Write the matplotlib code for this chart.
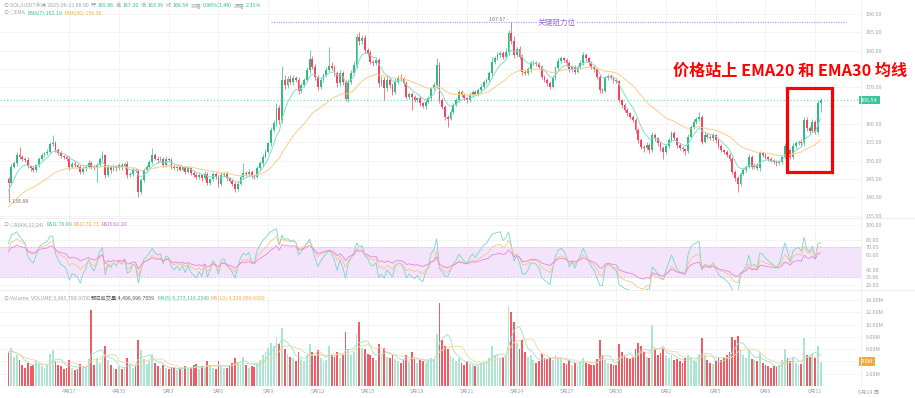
import numpy as np
import pandas as pd
import matplotlib
matplotlib.use("Agg")
import matplotlib.pyplot as plt
from matplotlib.patches import Rectangle

plt.rcParams['font.family'] = ['Noto Sans CJK SC', 'DejaVu Sans']

W, H = 915, 398

# SOL/USDT 4H closes, first candle 4/23 08:00, last 6/11 08:00
closes = [
    143.9, 148.4, 149.3, 151.6, 151.0, 150.6, 150.2, 148.5, 147.9, 147.5,
    148.8, 150.6, 151.5, 152.0, 152.5, 154.5, 154.7, 152.9, 152.0, 151.3,
    151.1, 150.6, 148.4, 149.1, 148.8, 148.4, 147.0, 147.9, 148.4, 149.5,
    148.4, 147.9, 148.8, 150.6, 151.5, 146.1, 148.4, 147.5, 148.5, 147.9,
    148.8, 148.2, 149.1, 146.1, 146.4, 147.5, 147.3, 141.6, 144.7, 147.5,
    148.4, 149.7, 151.5, 150.6, 150.2, 150.6, 148.8, 150.4, 150.2, 148.4,
    147.9, 148.4, 147.6, 148.2, 147.0, 147.9, 146.7, 146.1, 145.5, 146.1,
    145.2, 146.5, 144.0, 144.9, 146.4, 145.6, 143.6, 146.1, 146.5, 145.2,
    144.6, 143.8, 142.2, 143.8, 145.6, 146.7, 146.4, 147.0, 145.8, 145.6,
    147.9, 149.3, 151.1, 152.5, 154.7, 158.4, 160.2, 164.3, 161.1, 172.0,
    170.6, 172.2, 171.5, 172.5, 172.0, 169.1, 170.6, 172.0, 174.7, 177.6,
    175.6, 172.9, 170.2, 172.0, 173.4, 174.7, 175.8, 175.2, 173.8, 171.1,
    173.8, 171.5, 166.7, 171.5, 173.8, 176.1, 183.8, 182.5, 183.4, 180.2,
    179.3, 177.0, 176.6, 177.5, 171.1, 172.0, 169.7, 172.0, 170.6, 168.8,
    171.5, 172.5, 172.2, 171.1, 167.5, 168.2, 167.3, 166.5, 167.0, 165.6,
    164.9, 166.1, 167.0, 169.7, 170.6, 176.1, 166.5, 164.7, 162.0, 161.5,
    163.4, 165.2, 166.5, 168.8, 167.9, 167.0, 166.5, 167.9, 168.8, 168.2,
    169.3, 170.2, 171.5, 172.0, 173.8, 177.0, 177.9, 178.8, 179.3, 178.4,
    179.7, 184.7, 182.5, 178.8, 180.4, 178.4, 174.3, 174.0, 174.9, 176.6,
    176.7, 176.4, 175.6, 172.9, 172.0, 171.1, 170.2, 172.5, 175.2, 177.3,
    177.9, 177.5, 176.6, 174.7, 175.6, 174.3, 175.6, 176.7, 178.8, 177.9,
    176.7, 175.6, 174.9, 172.9, 169.3, 169.1, 172.5, 173.1, 172.7, 172.0,
    171.6, 166.5, 165.2, 163.8, 162.9, 162.0, 161.1, 158.4, 155.6, 153.8,
    153.4, 154.3, 152.9, 157.0, 156.1, 154.7, 153.4, 152.5, 154.0, 155.6,
    157.5, 156.1, 154.3, 153.4, 153.1, 152.7, 156.6, 159.3, 160.6, 161.3,
    162.0, 155.2, 157.0, 156.4, 156.1, 157.0, 155.6, 154.0, 152.9, 152.5,
    151.6, 150.6, 147.0, 145.2, 143.8, 146.5, 147.5, 148.4, 151.1, 148.4,
    148.8, 147.9, 152.0, 151.6, 150.9, 150.4, 150.0, 149.6, 149.3, 149.7,
    151.1, 154.0, 152.9, 151.1, 154.0, 154.9, 155.2, 154.7, 161.1, 158.8,
    158.2, 160.6, 157.9, 165.86, 166.54,
]
first_open = 144.9

upper_wick = [
    0.6, 0.8, 0.5, 0.9, 2.2, 0.6, 0.5, 0.7, 0.4, 0.6,
    0.4, 0.5, 0.6, 0.4, 0.7, 0.5, 2.3, 0.8, 0.5, 0.6,
    0.4, 0.5, 0.6, 0.5, 0.7, 0.4, 0.5, 0.6, 0.4, 0.8,
    0.5, 0.4, 0.6, 0.5, 1.2, 0.4, 0.6, 0.5, 0.7, 0.4,
    0.6, 0.5, 0.5, 0.8, 0.4, 0.5, 0.6, 0.5, 0.6, 0.5,
    0.4, 0.6, 1.9, 0.5, 0.6, 0.8, 0.5, 0.9, 0.4, 0.6,
    0.5, 0.4, 0.6, 0.5, 0.4, 0.6, 0.5, 0.4, 0.5, 0.6,
    0.4, 0.7, 0.5, 0.4, 0.6, 0.5, 0.4, 0.7, 0.5, 0.6,
    0.4, 0.5, 0.4, 0.6, 0.5, 2.6, 0.5, 0.8, 0.4, 0.5,
    0.6, 0.5, 0.7, 0.6, 0.5, 0.9, 0.8, 1.5, 1.0, 3.8,
    1.5, 0.8, 1.2, 0.9, 0.6, 0.8, 0.7, 0.6, 0.9, 2.6,
    1.0, 0.8, 0.5, 0.9, 0.6, 0.8, 5.3, 1.0, 0.9, 0.7,
    0.8, 0.6, 0.5, 0.9, 0.8, 1.0, 0.7, 1.3, 0.8, 0.9,
    0.6, 0.8, 0.5, 0.9, 0.6, 1.2, 0.7, 1.0, 0.6, 0.5,
    1.0, 0.8, 1.2, 0.6, 0.7, 0.5, 0.6, 0.5, 0.4, 0.7,
    0.5, 0.6, 0.7, 0.5, 0.8, 1.9, 0.7, 0.6, 0.5, 0.4,
    0.6, 0.5, 0.7, 0.6, 0.5, 0.6, 0.4, 0.7, 0.5, 0.6,
    0.5, 0.7, 0.6, 0.5, 0.6, 1.2, 0.7, 0.8, 0.6, 0.7,
    0.9, 1.0, 2.97, 1.4, 0.7, 0.8, 0.6, 0.5, 0.7, 0.6,
    0.7, 0.5, 0.6, 0.5, 0.4, 0.6, 0.5, 0.7, 0.6, 0.8,
    0.7, 0.5, 0.6, 0.5, 0.6, 0.4, 0.6, 0.7, 0.9, 0.6,
    0.5, 0.6, 0.4, 0.5, 0.6, 0.5, 0.7, 0.6, 0.5, 0.4,
    0.6, 0.5, 0.4, 0.6, 0.5, 0.4, 0.6, 0.5, 0.4, 0.6,
    0.5, 0.7, 0.5, 0.8, 0.6, 0.5, 0.4, 0.5, 0.6, 0.7,
    0.6, 0.5, 0.4, 0.6, 0.5, 0.4, 0.6, 0.5, 0.7, 0.6,
    1.4, 0.6, 0.7, 0.5, 0.6, 0.5, 0.4, 0.6, 0.5, 0.4,
    0.5, 0.6, 0.4, 0.5, 0.6, 0.5, 0.6, 0.4, 0.7, 0.5,
    0.6, 0.5, 0.6, 0.4, 0.5, 0.4, 0.5, 0.4, 0.5, 0.6,
    0.5, 0.8, 0.6, 0.5, 0.7, 0.6, 0.5, 0.6, 0.8, 0.7,
    0.6, 0.7, 0.6, 0.6, 0.66,
]
lower_wick = [
    5.02, 0.6, 0.5, 0.7, 0.4, 0.6, 0.5, 0.4, 0.6, 0.5,
    0.6, 0.4, 0.5, 0.6, 0.4, 0.5, 0.6, 0.5, 0.4, 0.6,
    0.5, 0.6, 0.8, 0.5, 0.6, 0.4, 0.7, 0.5, 0.6, 0.4,
    0.6, 0.5, 3.6, 0.4, 0.6, 0.7, 0.5, 0.8, 0.4, 0.6,
    0.5, 0.6, 0.4, 0.7, 0.5, 0.6, 0.4, 1.4, 0.6, 0.5,
    0.5, 0.4, 0.6, 0.5, 0.7, 0.4, 0.6, 0.5, 0.4, 0.6,
    0.5, 0.6, 0.4, 0.5, 0.6, 0.4, 0.5, 0.6, 0.4, 0.5,
    0.6, 0.4, 0.7, 0.5, 0.4, 0.6, 0.7, 0.5, 0.4, 0.6,
    0.5, 0.6, 0.8, 0.5, 0.4, 0.6, 0.5, 0.4, 0.6, 0.5,
    0.4, 0.5, 0.6, 0.4, 0.5, 0.6, 0.7, 0.8, 1.0, 0.9,
    1.0, 0.8, 0.7, 0.9, 0.6, 0.8, 0.7, 0.5, 0.6, 0.8,
    0.7, 0.9, 0.8, 0.6, 0.5, 0.7, 0.6, 0.5, 0.7, 0.9,
    0.6, 0.8, 0.5, 0.7, 0.6, 0.5, 0.8, 0.9, 0.7, 0.8,
    0.7, 0.6, 0.8, 0.5, 0.9, 0.6, 3.2, 0.6, 0.7, 0.8,
    0.6, 0.7, 0.5, 0.6, 0.8, 0.7, 3.5, 0.6, 0.5, 0.7,
    0.6, 0.7, 0.5, 0.6, 0.5, 0.8, 0.7, 0.6, 0.8, 2.2,
    0.5, 0.6, 0.4, 0.5, 0.6, 0.5, 0.7, 0.5, 0.6, 0.4,
    0.6, 0.5, 0.4, 0.6, 0.5, 0.7, 0.6, 0.5, 0.6, 0.7,
    0.6, 0.8, 0.7, 0.9, 0.6, 0.7, 0.8, 0.6, 0.5, 0.6,
    0.5, 0.6, 0.7, 0.5, 0.6, 0.8, 0.7, 0.5, 0.6, 0.5,
    0.6, 0.5, 0.7, 0.6, 0.5, 0.6, 0.5, 0.6, 0.5, 0.7,
    0.6, 0.5, 0.6, 0.7, 0.8, 0.6, 0.5, 0.6, 0.5, 0.7,
    0.5, 0.6, 0.7, 0.5, 0.6, 0.7, 0.6, 0.8, 0.9, 0.7,
    1.0, 0.6, 0.7, 0.5, 0.6, 0.7, 0.8, 1.9, 0.6, 0.5,
    0.6, 0.5, 0.7, 0.6, 0.8, 1.2, 0.6, 0.5, 0.6, 0.5,
    0.6, 0.7, 0.5, 0.6, 0.5, 0.6, 0.7, 0.6, 0.5, 0.6,
    0.5, 0.6, 0.7, 0.8, 2.3, 0.6, 0.5, 0.6, 0.5, 0.7,
    0.6, 0.5, 0.6, 0.5, 0.4, 0.5, 0.4, 0.5, 0.6, 0.5,
    0.6, 0.5, 0.7, 0.6, 0.5, 0.6, 0.5, 0.7, 0.6, 0.8,
    0.6, 0.5, 0.7, 0.6, 2.47,
]
# volume in millions
volume_m = [
    5.5, 6.2, 4.8, 5.0, 4.2, 3.5, 3.0, 3.8, 3.2, 3.5,
    4.0, 3.6, 3.2, 3.0, 3.4, 5.2, 5.8, 4.0, 3.5, 3.2,
    2.8, 3.0, 4.2, 3.0, 2.6, 2.8, 3.6, 2.9, 3.3, 4.4,
    12.4, 3.5, 4.6, 3.8, 5.0, 6.5, 4.2, 3.4, 3.0, 2.8,
    3.2, 2.7, 3.0, 4.5, 3.6, 3.0, 3.2, 7.5, 5.8, 4.4,
    3.6, 4.0, 5.2, 3.8, 3.2, 2.9, 3.4, 3.0, 2.7, 3.1,
    2.9, 2.6, 2.8, 3.0, 3.3, 2.7, 3.0, 3.4, 3.6, 2.8,
    3.2, 3.0, 4.1, 3.4, 3.0, 2.8, 4.0, 3.5, 3.0, 2.9,
    3.4, 3.8, 4.6, 3.9, 3.5, 4.8, 3.4, 3.0, 3.2, 3.1,
    3.8, 4.2, 5.0, 5.5, 6.2, 7.0, 6.5, 8.0, 6.8, 9.5,
    6.0, 5.2, 4.8, 4.5, 4.0, 5.6, 4.4, 4.0, 5.0, 6.8,
    5.5, 5.0, 5.8, 4.5, 4.0, 4.2, 6.5, 5.0, 4.8, 5.5,
    4.6, 5.2, 8.8, 6.0, 5.0, 5.5, 8.5, 10.5, 6.2, 6.0,
    5.2, 5.0, 4.6, 4.3, 6.8, 5.0, 6.2, 4.8, 4.5, 5.0,
    4.4, 4.0, 3.8, 4.2, 5.0, 3.9, 5.6, 4.4, 3.8, 4.2,
    4.0, 3.8, 4.2, 4.6, 4.4, 8.5, 13.5, 7.5, 6.5, 6.0,
    5.0, 4.5, 4.0, 4.6, 3.8, 3.5, 3.9, 3.6, 3.4, 3.2,
    3.5, 3.8, 4.0, 4.2, 4.6, 6.5, 5.0, 5.2, 4.6, 4.8,
    5.0, 13.0, 12.0, 10.5, 7.0, 6.0, 7.5, 5.5, 4.8, 5.0,
    4.2, 3.8, 4.0, 5.2, 4.6, 4.4, 4.8, 4.2, 5.0, 4.6,
    4.4, 3.8, 3.6, 4.2, 3.5, 3.8, 3.4, 3.9, 4.6, 3.8,
    3.6, 3.4, 3.5, 4.4, 7.5, 5.0, 4.2, 3.8, 3.6, 3.4,
    3.5, 6.8, 5.6, 5.0, 4.6, 4.4, 4.8, 6.0, 7.0, 6.5,
    5.5, 4.8, 4.5, 10.0, 6.0, 5.0, 5.4, 6.2, 5.0, 4.6,
    5.0, 4.2, 4.4, 4.0, 3.8, 4.6, 5.0, 4.8, 4.2, 4.0,
    5.2, 7.8, 5.0, 4.2, 3.8, 3.6, 4.0, 4.5, 4.2, 4.6,
    5.0, 5.6, 8.0, 7.5, 8.2, 6.0, 5.0, 4.6, 5.8, 4.4,
    4.2, 4.0, 5.5, 3.8, 3.4, 3.2, 3.0, 3.3, 3.1, 3.4,
    4.2, 6.0, 4.5, 4.0, 4.6, 3.8, 3.5, 3.6, 7.8, 5.0,
    4.8, 5.2, 4.6, 6.5, 3.97,
]

ema7_seed, ema30_seed = 141.1, 137.0
rsi_seeds = {6: 75, 12: 68, 24: 64}

date_labels = ['4月27', '4月30', '5月3', '5月6', '5月9', '5月12', '5月15', '5月18',
               '5月21', '5月24', '5月27', '5月30', '6月2', '6月5', '6月8', '6月11']
first_tick, tick_step = 22, 18   # 4/27 00:00 is candle 22, one label every 3 days
price_ticks = [190, 185, 180, 170, 160, 155, 150, 145, 140, 135]
rsi_ticks = [100, 80, 70, 60, 40, 30, 20]
vol_ticks = [14, 12, 10, 8, 6, 2]
resistance = 187.67
last_price = 166.54
period_low = 138.88

UP, DOWN = '#2ebd85', '#f6465d'
GRAY = '#a0a4aa'
GRID = '#f3f3f3'

c = np.array(closes)
o = np.array([first_open] + closes[:-1])
hi = np.maximum(o, c) + np.array(upper_wick)
lo = np.minimum(o, c) - np.array(lower_wick)
vol = np.array(volume_m) * 1e6
x = np.arange(len(c))
up = c >= o


def ema(vals, n, seed):
    a = 2 / (n + 1)
    out, prev = [], seed
    for v in vals:
        prev = a * v + (1 - a) * prev
        out.append(prev)
    return np.array(out)


def rsi(vals, n, seed):
    g, l = seed / 100, 1 - seed / 100
    out = [seed]
    for d in np.diff(vals):
        g = (g * (n - 1) + max(d, 0)) / n
        l = (l * (n - 1) + max(-d, 0)) / n
        out.append(100 * g / (g + l))
    return np.array(out)


fig = plt.figure(figsize=(W / 100, H / 100), dpi=100)
fig.patch.set_facecolor('white')


def box(y0, y1):
    return [0, 1 - y1 / H, 861 / W, (y1 - y0) / H]


ax = fig.add_axes(box(0, 218))
ax_r = fig.add_axes(box(218, 290), sharex=ax)
ax_v = fig.add_axes(box(290, 386), sharex=ax)

xl = (-3.08, 308.6)
ticks = [first_tick + tick_step * k for k in range(len(date_labels))]
for a in (ax, ax_r, ax_v):
    a.set_xlim(*xl)
    for s in a.spines.values():
        s.set_visible(False)
    a.yaxis.tick_right()
    a.tick_params(axis='y', length=0, pad=3.5, labelsize=3.9, labelcolor=GRAY)
    a.tick_params(axis='x', length=0)
    for t in ticks:
        a.axvline(t, color=GRID, lw=0.6, zorder=0)
ax.tick_params(axis='x', labelbottom=False)
ax_r.tick_params(axis='x', labelbottom=False)

# ---- price panel
ax.set_ylim(134.4, 193.8)
ax.set_yticks(price_ticks)
ax.set_yticklabels([f'{p:.2f}' for p in price_ticks])
for p in price_ticks + [165, 175]:
    ax.axhline(p, color=GRID, lw=0.6, zorder=0)

col = np.where(up, UP, DOWN)
ax.vlines(x, lo, hi, colors=col, lw=0.5, zorder=2)
body = np.maximum(np.abs(c - o), 0.12)
ax.bar(x, body, bottom=np.minimum(o, c), width=0.66, color=col, lw=0, zorder=3)
ax.plot(x, ema(c, 7, ema7_seed), color='#86dccb', lw=0.7, zorder=4)
ax.plot(x, ema(c, 30, ema30_seed), color='#fbcd8a', lw=0.7, zorder=4)

ax.axhline(last_price, color='#7fd6bd', lw=0.8, ls=(0, (1, 2)), zorder=1)
ax.text(1.0, last_price, f'{last_price:.2f}', transform=ax.get_yaxis_transform(),
        fontsize=3.9, color='white', va='center', ha='left', clip_on=False,
        bbox=dict(boxstyle='square,pad=0.35', fc='#3cc39a', ec='none'), zorder=6)

ax.hlines(resistance, 95, 303, color='#b48be8', lw=0.8, ls=(0, (1, 1.2)), zorder=1)
ax.text(198.5, resistance, '关键阻力位', fontsize=5.5, color='#a565e0', ha='center', va='center',
        bbox=dict(boxstyle='square,pad=0.1', fc='white', ec='none'), zorder=5)
imax = int(np.argmax(hi))
ax.text(imax - 1.0, hi[imax] + 0.2, f'{hi.max():.2f} -', fontsize=3.8, color='#777',
        ha='right', va='bottom', zorder=5)
ax.text(0.2, period_low, f'- {period_low:.2f}', fontsize=3.8, color='#777',
        ha='left', va='center', zorder=5)

# ---- RSI panel
ax_r.set_ylim(13.3, 109.3)
ax_r.set_yticks(rsi_ticks)
ax_r.set_yticklabels([f'{v:.2f}' for v in rsi_ticks])
for v in rsi_ticks:
    ax_r.axhline(v, color=GRID, lw=0.6, zorder=0)
ax_r.axhspan(30, 70, color='#f4e4fb', lw=0, zorder=0.5)
for v in (30, 70):
    ax_r.axhline(v, color='#dcbfee', lw=0.6, ls=(0, (2, 2)), zorder=0.6)
ax_r.plot(x, rsi(c, 6, rsi_seeds[6]), color='#76d6c6', lw=0.6, zorder=3)
ax_r.plot(x, rsi(c, 12, rsi_seeds[12]), color='#f9c487', lw=0.6, zorder=3)
ax_r.plot(x, rsi(c, 24, rsi_seeds[24]), color='#e585df', lw=0.6, zorder=3)

# ---- volume panel
ax_v.set_ylim(0, 15.63e6)
ax_v.set_yticks([v * 1e6 for v in vol_ticks])
ax_v.set_yticklabels([f'{v:.2f}M' for v in vol_ticks])
for v in vol_ticks + [4]:
    ax_v.axhline(v * 1e6, color=GRID, lw=0.6, zorder=0)
ax_v.bar(x, vol, width=0.66, color=np.where(up, '#ade5d3', '#f15b66'), lw=0, zorder=2)
vs = pd.Series(vol)
ax_v.plot(x, vs.rolling(5, min_periods=1).mean(), color='#9fe0cd', lw=0.6, zorder=3)
ax_v.plot(x, vs.rolling(10, min_periods=1).mean(), color='#fad39a', lw=0.6, zorder=3)
ax_v.text(1.0, vol[-1], '4.0M', transform=ax_v.get_yaxis_transform(), fontsize=3.9,
          color='white', va='center', ha='left', clip_on=False,
          bbox=dict(boxstyle='square,pad=0.35', fc='#f0a93a', ec='none'), zorder=6)
ax_v.set_xticks(ticks)
ax_v.set_xticklabels(date_labels, fontsize=3.9, color=GRAY)
ax_v.tick_params(axis='x', pad=2)
fig.text(858 / W, 1 - 392.5 / H, '6月14 周', fontsize=3.9, color=GRAY, va='center', ha='left')

# panel separators and price-axis edge
for yy in (218, 290):
    fig.add_artist(plt.Line2D([0, 1], [1 - yy / H] * 2, color='#ececec', lw=0.6))
fig.add_artist(plt.Line2D([861 / W] * 2, [1 - 386 / H, 1], color='#eeeeee', lw=0.6))

# ---- header lines drawn piece by piece
renderer = fig.canvas.get_renderer()


def header(y_px, parts, x_px=3, size=3.8):
    xx = x_px
    for s, cl in parts:
        t = fig.text(xx / W, 1 - y_px / H, s, fontsize=size, color=cl, va='center', ha='left')
        xx += t.get_window_extent(renderer=renderer).width + 1.8


header(5.5, [('⊙', GRAY), ('SOL/USDT永续 2025-06-11 08:00', GRAY), ('开', GRAY), ('165.86', UP),
             ('高', GRAY), ('167.20', UP), ('低', GRAY), ('163.39', UP), ('收', GRAY), ('166.54', UP),
             ('涨幅', GRAY), ('0.90%(1.48)', UP), ('振幅', GRAY), ('2.31%', UP)])
header(13, [('⊙', GRAY), ('◇EMA', GRAY), ('EMA(7):162.19', '#3cc39a'), ('EMA(30):156.36', '#f2ad3d')])
header(225, [('⊙', GRAY), ('◇RSI(6,12,24)', GRAY), ('RSI1:76.89', '#3cc39a'),
             ('RSI2:70.73', '#f2ad3d'), ('RSI3:62.20', '#e060d8')])
header(298.5, [('⊙', GRAY), ('Volume', GRAY), ('VOLUME:3,965,788.9700', GRAY),
               ('预估成交量:4,496,996.7059', '#555555'), ('MA(5):5,373,116.2540', '#3cc39a'),
               ('MA(10):4,339,086.6950', '#f2ad3d')])

# ---- annotation
fig.text(673 / W, 1 - 71 / H, '价格站上 EMA20 和 EMA30 均线', fontsize=11.6, fontweight='bold',
         color='#ff0000', va='center', ha='left',
         bbox=dict(boxstyle='square,pad=0.05', fc='white', ec='none'))
fig.add_artist(Rectangle((787 / W, 1 - 172 / H), 45 / W, 84 / H, transform=fig.transFigure,
                         fill=False, ec='#ff0000', lw=2.3))

fig.savefig('out.png', dpi=100, facecolor='white')
